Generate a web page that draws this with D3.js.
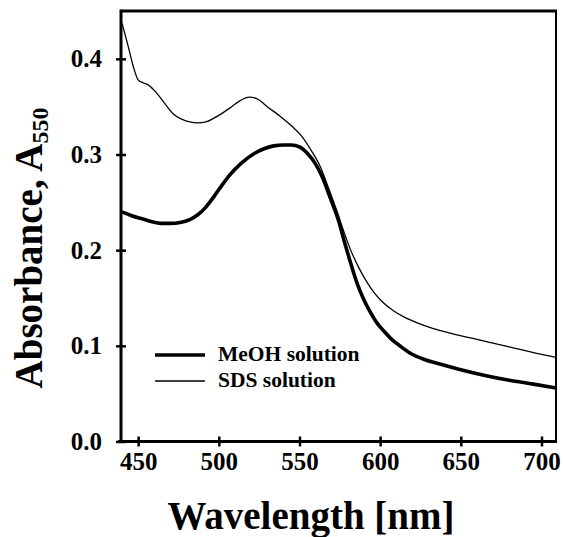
<!DOCTYPE html>
<html>
<head>
<meta charset="utf-8">
<script src="https://cdn.jsdelivr.net/npm/d3@7"></script>
<style>
  body { margin: 0; background: #fff; }
  text { font-family: "Liberation Serif", "Times New Roman", serif; font-weight: bold; fill: #000; }
</style>
</head>
<body>
<div id="chart"></div>
<script>
// Absorbance spectra
const meohNm = [440, 446, 452, 458, 464, 470, 476, 482, 487, 492, 497, 502, 507, 514, 522, 528, 534, 540, 545, 550, 555, 560, 564, 569, 574, 578, 582, 586, 590, 594, 598, 602, 607, 613, 619, 627, 637, 650, 665, 680, 695, 709];
const meohAbs = [0.240, 0.236, 0.233, 0.230, 0.228, 0.228, 0.229, 0.232, 0.237, 0.245, 0.256, 0.268, 0.279, 0.291, 0.301, 0.306, 0.309, 0.310, 0.310, 0.308, 0.301, 0.290, 0.277, 0.255, 0.232, 0.208, 0.185, 0.164, 0.148, 0.135, 0.124, 0.116, 0.107, 0.099, 0.092, 0.086, 0.081, 0.075, 0.069, 0.064, 0.060, 0.056];

const sdsNm = [440, 444, 447, 450, 453, 456, 460, 464, 468, 472, 477, 482, 487, 492, 497, 502, 508, 513, 519, 524, 530, 538, 545, 551, 557, 563, 568, 574, 578, 582, 587, 592, 597, 602, 608, 615, 623, 633, 644, 662, 680, 695, 709];
const sdsAbs = [0.437, 0.412, 0.392, 0.378, 0.375, 0.373, 0.367, 0.359, 0.350, 0.342, 0.337, 0.334, 0.333, 0.334, 0.338, 0.343, 0.350, 0.356, 0.360, 0.358, 0.350, 0.340, 0.330, 0.320, 0.305, 0.287, 0.265, 0.237, 0.217, 0.199, 0.181, 0.166, 0.154, 0.145, 0.137, 0.130, 0.124, 0.118, 0.113, 0.106, 0.099, 0.093, 0.088];

const xTicks = [450, 500, 550, 600, 650, 700];
const yTicks = [0.0, 0.1, 0.2, 0.3, 0.4];
const legendNames = ["MeOH solution", "SDS solution"];

const w = 563;
const h = 537;

const svg = d3.select("#chart")
  .append("svg")
  .attr("width", w)
  .attr("height", h);

const xScale = d3.scaleLinear().domain([440, 709]).range([122, 556]);
const yScale = d3.scaleLinear().domain([0, 0.45]).range([441.5, 11]);

// curves
const line = d3.line()
  .x((d) => xScale(d[0]))
  .y((d) => yScale(d[1]))
  .curve(d3.curveMonotoneX);

const series = [
  { pts: d3.zip(meohNm, meohAbs), width: 3.6 },
  { pts: d3.zip(sdsNm, sdsAbs), width: 1.3 }
];

svg.selectAll("path.curve")
  .data(series)
  .enter()
  .append("path")
  .attr("class", "curve")
  .attr("d", (d) => line(d.pts))
  .attr("fill", "none")
  .attr("stroke", "#000")
  .attr("stroke-width", (d) => d.width)
  .attr("stroke-linejoin", "round");

// frame
const x0 = xScale.range()[0] - 1, x1 = xScale.range()[1];
const y0 = yScale.range()[0], y1 = yScale.range()[1];
svg.append("line").attr("x1", x0).attr("x2", x1 + 1).attr("y1", y1).attr("y2", y1)
  .attr("stroke", "#000").attr("stroke-width", 3);
svg.append("line").attr("x1", x1).attr("x2", x1).attr("y1", y1).attr("y2", y0)
  .attr("stroke", "#000").attr("stroke-width", 2);

// axes, ticks cross the axis line
const xAxis = d3.axisBottom(xScale)
  .tickValues(xTicks)
  .tickSizeInner(-5)
  .tickSizeOuter(0)
  .tickPadding(11)
  .tickFormat(d3.format("d"));

const gx = svg.append("g")
  .attr("transform", `translate(0,${y0})`)
  .call(xAxis);
gx.select(".domain").attr("stroke-width", 3).attr("d", `M${x0 - 3},0H${x1 + 1}`);
gx.selectAll(".tick line").attr("y1", 5).attr("y2", -5).attr("stroke-width", 2.5);
gx.selectAll(".tick text").attr("font-size", 25).attr("font-family", "Liberation Serif").attr("font-weight", "bold");

const yAxis = d3.axisLeft(yScale)
  .tickValues(yTicks)
  .tickSizeInner(5)
  .tickSizeOuter(0)
  .tickPadding(14)
  .tickFormat(d3.format(".1f"));

const gy = svg.append("g")
  .attr("transform", `translate(${x0},0)`)
  .call(yAxis);
gy.select(".domain").attr("stroke-width", 3).attr("d", `M0,${y0}V${y1 - 1.5}`);
gy.selectAll(".tick line").attr("x1", -5).attr("x2", 5).attr("stroke-width", 2.5);
gy.selectAll(".tick text").attr("font-size", 25).attr("font-family", "Liberation Serif").attr("font-weight", "bold");

// axis titles
svg.append("text")
  .attr("x", 311)
  .attr("y", 529)
  .attr("text-anchor", "middle")
  .attr("font-size", 39)
  .text("Wavelength [nm]");

const yl = svg.append("text")
  .attr("transform", "translate(42,248) rotate(-90)")
  .attr("text-anchor", "middle")
  .attr("font-size", 39);
yl.append("tspan").text("Absorbance, A");
yl.append("tspan").attr("font-size", 24).attr("dy", 6).text("550");

// legend
const legend = svg.append("g").attr("transform", "translate(155,355)");
legend.selectAll("line")
  .data(legendNames)
  .enter()
  .append("line")
  .attr("x1", 0).attr("x2", 50)
  .attr("y1", (d, i) => i * 26).attr("y2", (d, i) => i * 26)
  .attr("stroke", "#000")
  .attr("stroke-width", (d, i) => series[i].width);
legend.selectAll("text")
  .data(legendNames)
  .enter()
  .append("text")
  .attr("x", 63)
  .attr("y", (d, i) => i * 26 + 6)
  .attr("font-size", 21.5)
  .text((d) => d);
</script>
</body>
</html>
